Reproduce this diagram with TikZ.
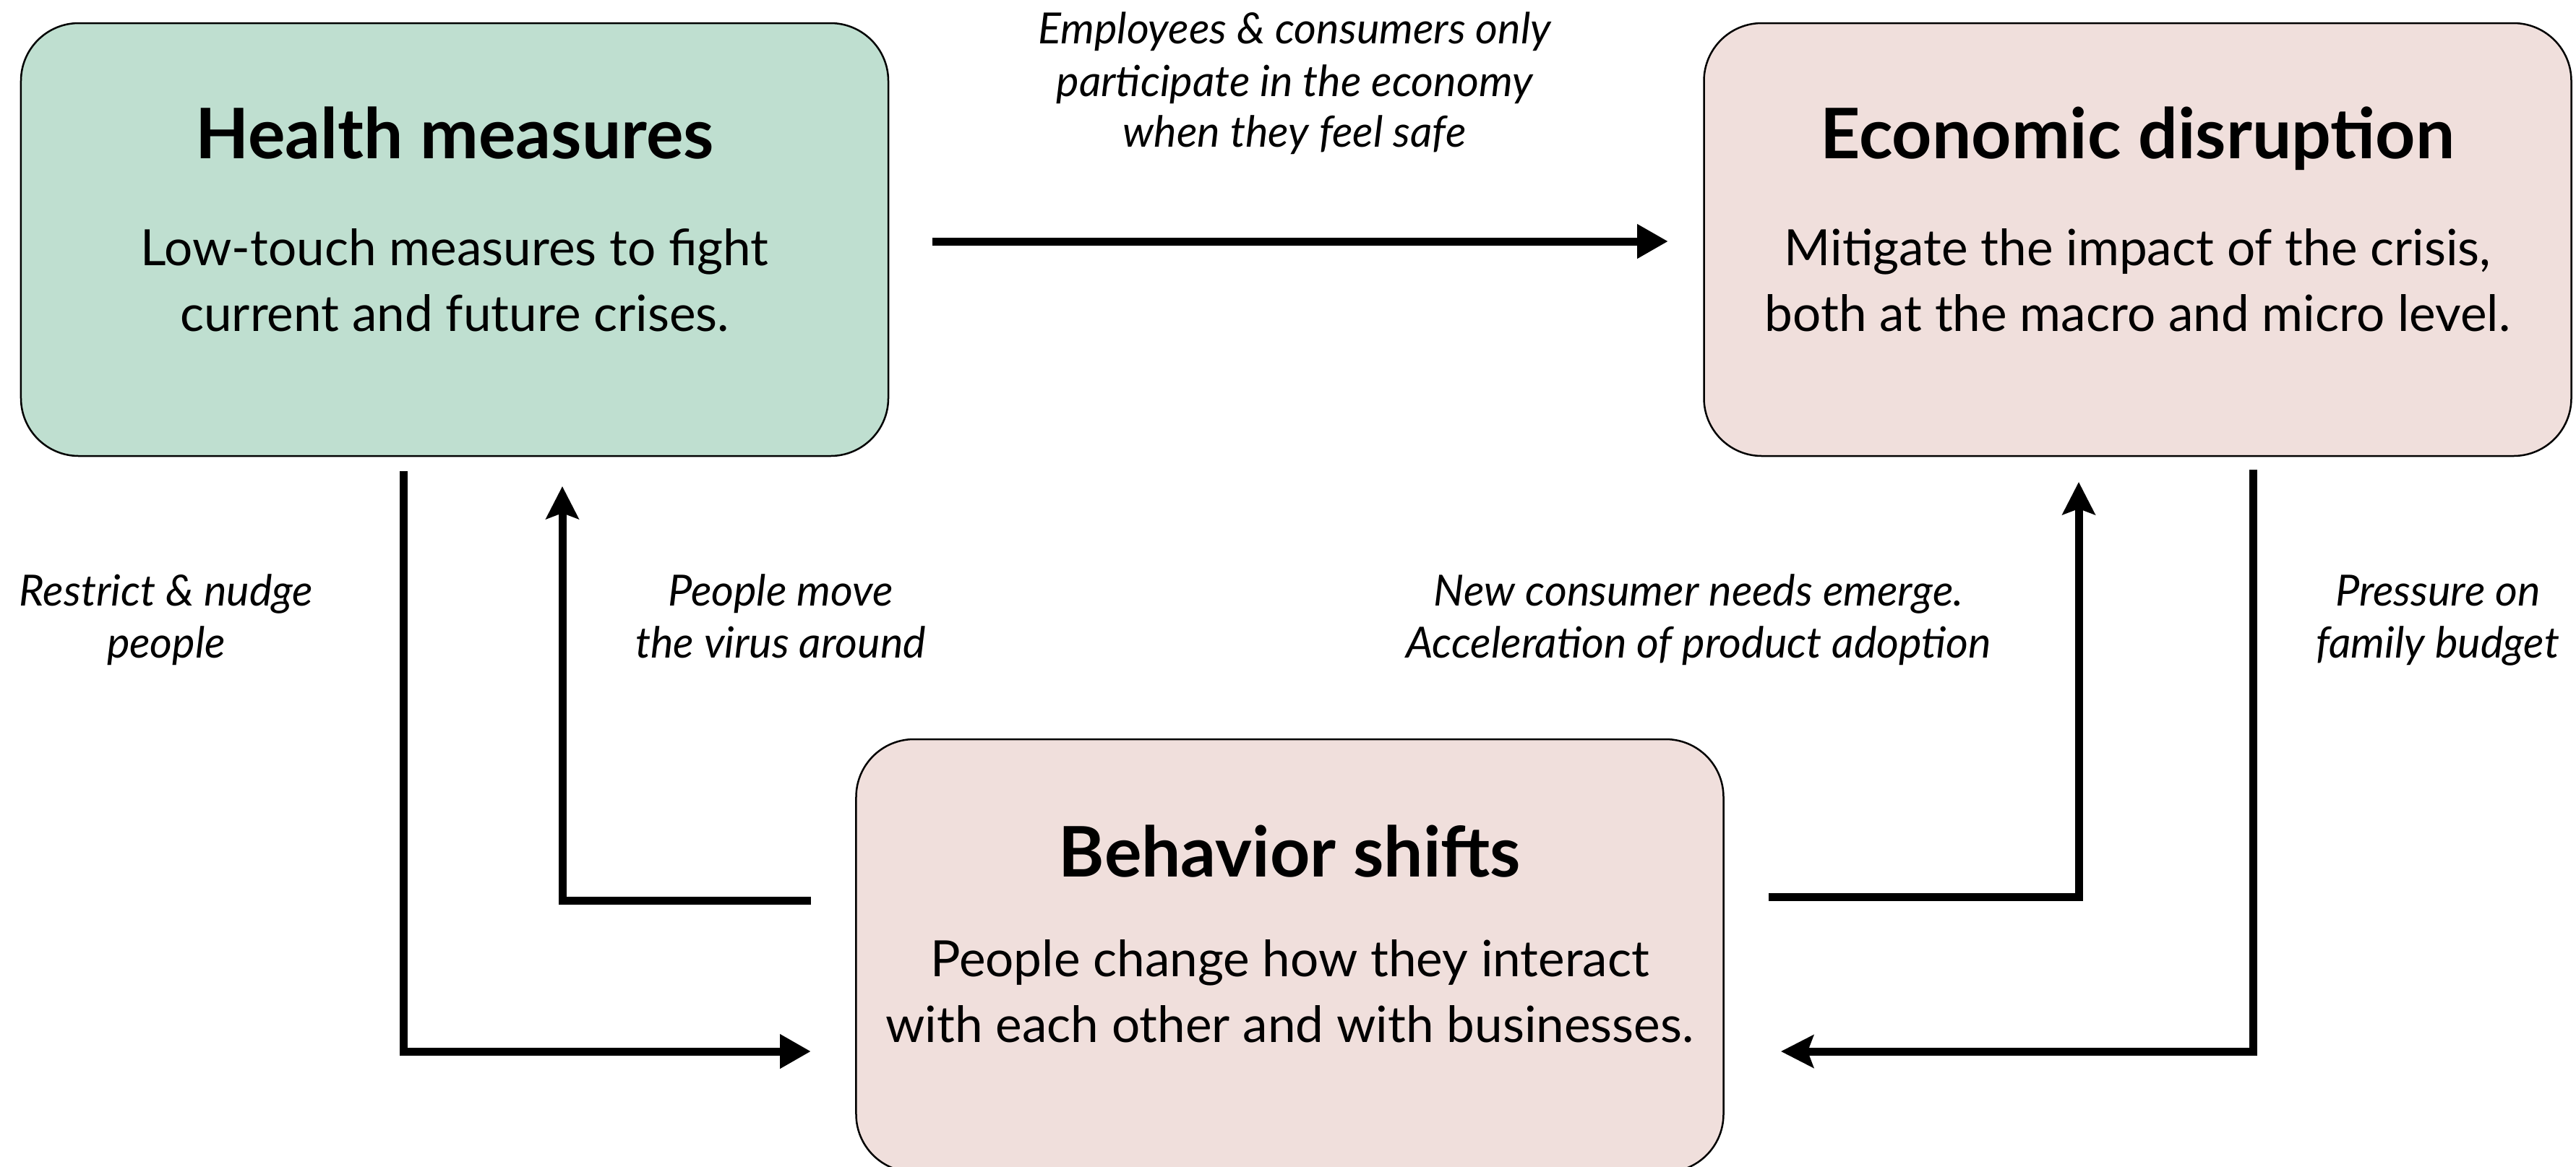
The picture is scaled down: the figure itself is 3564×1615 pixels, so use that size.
\documentclass[tikz,border=0pt]{standalone}
\usepackage{fontspec}
\setmainfont{Lato}
\usetikzlibrary{arrows.meta}
\definecolor{boxgreen}{HTML}{BFDFD0}
\definecolor{boxpink}{HTML}{F0DFDC}
\tikzset{
  panel/.style={draw=black, line width=0.5pt, rounded corners=16pt, minimum width=240pt, minimum height=119.8pt, inner sep=0pt},
  ttl/.style={anchor=base, inner sep=0pt, font=\fontsize{19.3}{23}\selectfont\bfseries},
  bodytxt/.style={anchor=base, inner sep=0pt, font=\fontsize{13.85}{17}\selectfont},
  lbl/.style={anchor=base, inner sep=0pt, font=\fontsize{11.9}{14}\selectfont\itshape},
  conn/.style={line width=2.2pt, -{Triangle[length=8.6pt,width=9pt]}},
  conns/.style={line width=2.2pt, -{Stealth[length=9pt,width=9pt,inset=1.6pt]}}
}
\begin{document}
\begin{tikzpicture}[x=0.2pt,y=-0.2pt]
\useasboundingbox (0,0) rectangle (3564,1615);
% boxes
\node[panel, fill=boxgreen] (health) at (629,331.5) {};
\node[panel, fill=boxpink] (econ) at (2957.5,331.5) {};
\node[panel, fill=boxpink] (behav) at (1784.5,1322.5) {};
% box texts
\node[ttl] (healthT) at (629,219) {Health measures};
\node[bodytxt] (healthB1) at (629,367) {Low-touch measures to fight};
\node[bodytxt] (healthB2) at (629,458) {current and future crises.};
\node[ttl] (econT) at (2957.5,219) {Economic disruption};
\node[bodytxt] (econB1) at (2957.5,367) {Mitigate the impact of the crisis,};
\node[bodytxt] (econB2) at (2957.5,458) {both at the macro and micro level.};
\node[ttl] (behavT) at (1784.5,1213) {Behavior shifts};
\node[bodytxt] (behavB1) at (1784.5,1351) {People change how they interact};
\node[bodytxt] (behavB2) at (1784.5,1442) {with each other and with businesses.};
% labels
\node[lbl] (l1a) at (1791,60) {Employees \& consumers only};
\node[lbl] (l1b) at (1791,133) {participate in the economy};
\node[lbl] (l1c) at (1791,203) {when they feel safe};
\node[lbl] (l2a) at (230,838) {Restrict \& nudge};
\node[lbl] (l2b) at (230,910) {people};
\node[lbl] (l3a) at (1080,838) {People move};
\node[lbl] (l3b) at (1080,910) {the virus around};
\node[lbl] (l4a) at (2350,838) {New consumer needs emerge.};
\node[lbl] (l4b) at (2350,910) {Acceleration of product adoption};
\node[lbl] (l5a) at (3373,838) {Pressure on};
\node[lbl] (l5b) at (3373,910) {family budget};
% connector ends
\coordinate (hOut) at (1290,334);
\coordinate (eIn) at (2308,334);
\coordinate (hDown) at (558,652);
\coordinate (bInL) at (1122,1455);
\coordinate (bOutL) at (1122,1246);
\coordinate (hIn) at (778,673);
\coordinate (bOutR) at (2447,1241);
\coordinate (eInB) at (2876,667);
\coordinate (eDown) at (3117,650);
\coordinate (bInR) at (2464,1455);
% connectors
\draw[conn] (hOut) -- (eIn);
\draw[conn] (hDown) |- (bInL);
\draw[conns] (bOutL) -| (hIn);
\draw[conns] (bOutR) -| (eInB);
\draw[conns] (eDown) |- (bInR);
\end{tikzpicture}
\end{document}
